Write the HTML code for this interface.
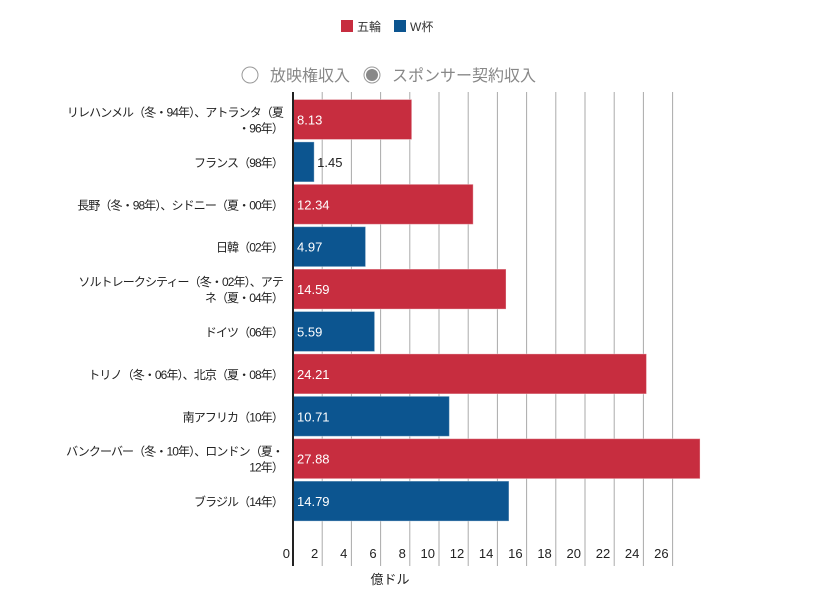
<!DOCTYPE html>
<html><head><meta charset="utf-8"><style>
body{margin:0;background:#fff;font-family:"Liberation Sans","Noto Sans CJK JP",sans-serif;}
#wrap{position:relative;width:817px;height:612px;overflow:hidden;}
</style></head><body>
<div id="wrap">
<svg id="svg" width="817" height="612" xmlns="http://www.w3.org/2000/svg" style="font-family:'Liberation Sans','Noto Sans CJK JP',sans-serif">
 <g>
  <g><rect x="341" y="20" width="12" height="12" fill="#c72d3f"/><text x="357" y="31" font-size="12" fill="#333">五輪</text></g>
  <g><rect x="394" y="20" width="12" height="12" fill="#0c5590"/><text x="410" y="31" font-size="12" fill="#333">W杯</text></g>
 </g>
 <g><circle cx="250" cy="75" r="8" fill="#fff" stroke="#999" stroke-width="1"/><text x="270" y="81" font-size="16" fill="#888">放映権収入</text></g>
 <g><circle cx="372" cy="75" r="8" fill="#fff" stroke="#999" stroke-width="1"/><circle cx="372" cy="75" r="6" fill="#888"/><text x="392" y="81" font-size="16" fill="#888">スポンサー契約収入</text></g>
 <g id="grid"></g>
 <g id="bars"></g>
 <g id="labels"></g>
 <g id="ticks"></g>
 <line x1="293" y1="92" x2="293" y2="566" stroke="#222" stroke-width="2"/>
 <text x="390" y="584" font-size="13" fill="#222" text-anchor="middle">億ドル</text>
</svg>
</div>
<script>
const categories=[["リレハンメル（冬・94年）、アトランタ（夏","・96年）"],["フランス（98年）"],["長野（冬・98年）、シドニー（夏・00年）"],["日韓（02年）"],["ソルトレークシティー（冬・02年）、アテ","ネ（夏・04年）"],["ドイツ（06年）"],["トリノ（冬・06年）、北京（夏・08年）"],["南アフリカ（10年）"],["バンクーバー（冬・10年）、ロンドン（夏・","12年）"],["ブラジル（14年）"]];
const values=[8.13,1.45,12.34,4.97,14.59,5.59,24.21,10.71,27.88,14.79];
const series=["o","w","o","w","o","w","o","w","o","w"];
const valueLabels=["8.13","1.45","12.34","4.97","14.59","5.59","24.21","10.71","27.88","14.79"];
const tickValues=[0,2,4,6,8,10,12,14,16,18,20,22,24,26];
const NS="http://www.w3.org/2000/svg";
const x0=293,pxPer=14.6,top0=99.5,pitch=42.4,bh=40;
const xs=v=>x0+v*pxPer;
const yc=i=>top0+i*pitch;
function mk(t,a,p){const e=document.createElementNS(NS,t);for(const k in a)e.setAttribute(k,a[k]);p.appendChild(e);return e;}
const grid=document.getElementById('grid'),bars=document.getElementById('bars'),labels=document.getElementById('labels'),ticks=document.getElementById('ticks');
tickValues.forEach(v=>{
 if(v>0){const l=mk('line',{x1:xs(v),x2:xs(v),y1:92,y2:566,stroke:'#aaa','stroke-width':1},grid);
 
 }
 const t=mk('text',{x:v===0?290:xs(v)-4,y:558,'font-size':13,fill:'#222','text-anchor':'end'},ticks);
 t.textContent=v;
 
 
});
values.forEach((v,i)=>{
 const col=series[i]==='o'?'#c72d3f':'#0c5590';
 const r=mk('rect',{x:x0,y:yc(i),width:v*pxPer,height:bh,fill:col,stroke:'#fff','stroke-opacity':0.35,'stroke-width':1},bars);
 
 
 const inside=v*pxPer>40;
 const t=mk('text',{x:inside?x0+4:xs(v)+3,y:yc(i)+bh/2+5,'font-size':13,fill:inside?'#fff':'#222'},bars);
 t.textContent=valueLabels[i];
 
 
 const lines=categories[i];
 const t2=mk('text',{x:283,'font-size':12,'letter-spacing':'-0.9',fill:'#222','text-anchor':'end'},labels);
 
 
 lines.forEach((s,j)=>{const sp=mk('tspan',{x:283,y:yc(i)+bh/2+5+(j-(lines.length-1)/2)*16},t2);sp.textContent=s;});
});
</script>
</body></html>
